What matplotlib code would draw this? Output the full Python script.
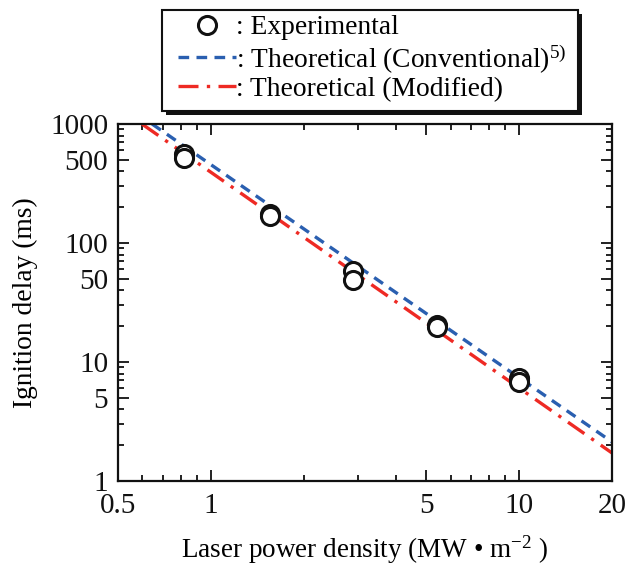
import matplotlib
matplotlib.use("Agg")
import matplotlib.pyplot as plt
from matplotlib.patches import Rectangle
from matplotlib.ticker import FixedLocator, NullFormatter, FixedFormatter

plt.rcParams["font.family"] = ["Liberation Serif", "DejaVu Serif"]
plt.rcParams["mathtext.fontset"] = "custom"
plt.rcParams["mathtext.rm"] = "Liberation Serif"
plt.rcParams["mathtext.it"] = "Liberation Serif:italic"

# experimental points (laser power density MW/m2, ignition delay ms)
power_exp = [0.82, 0.82, 1.56, 1.56, 2.89, 2.89, 5.4, 5.4, 10.0, 10.0]
delay_exp = [555, 520, 175, 167, 58, 49, 20.5, 19.5, 7.3, 6.8]

# theoretical lines, end points
power_conv = [0.645, 20]
delay_conv = [1000, 2.13]
power_mod = [0.598, 20]
delay_mod = [1000, 1.72]

x_ticks = [0.5, 1, 5, 10, 20]
y_ticks = [1, 5, 10, 50, 100, 500, 1000]

W, H = 632, 568
fig = plt.figure(figsize=(W / 100, H / 100), dpi=100)
ax = fig.add_axes([0.1867, 0.1532, 0.7816, 0.6285])

l1, = ax.plot(power_conv, delay_conv, color="#2a5fb0", lw=2.4,
              dashes=(3.2, 2.2))
l2, = ax.plot(power_mod, delay_mod, color="#ee2a24", lw=2.4,
              dashes=(6, 2.5, 1, 2.5))
p1, = ax.plot(power_exp, delay_exp, "o", ms=13, mfc="white", mec="#111111",
              mew=2.2, ls="none")

ax.set_xscale("log")
ax.set_yscale("log")
ax.set_xlim(0.5, 20)
ax.set_ylim(1, 1000)

ax.xaxis.set_major_locator(FixedLocator(x_ticks))
ax.xaxis.set_major_formatter(FixedFormatter(["0.5", "1", "5", "10", "20"]))
x_minor = [0.6, 0.7, 0.8, 0.9, 2, 3, 4, 6, 7, 8, 9]
ax.xaxis.set_minor_locator(FixedLocator(x_minor))
ax.xaxis.set_minor_formatter(NullFormatter())

ax.yaxis.set_major_locator(FixedLocator(y_ticks))
ax.yaxis.set_major_formatter(FixedFormatter([str(v) for v in y_ticks]))
y_minor = [m * d for d in (1, 10, 100) for m in (2, 3, 4, 6, 7, 8, 9)]
ax.yaxis.set_minor_locator(FixedLocator(y_minor))
ax.yaxis.set_minor_formatter(NullFormatter())

ax.tick_params(which="both", direction="in", top=True, right=True,
               labelsize=21, width=1.3, colors="#111111")
ax.tick_params(which="major", length=8)
ax.tick_params(axis="x", which="major", pad=9)
ax.tick_params(axis="y", which="major", pad=7)
ax.tick_params(which="minor", length=4)
for s in ax.spines.values():
    s.set_linewidth(1.6)
    s.set_color("#111111")

ax.set_xlabel("Laser power density (MW \u2022 m$^{-2}$ )", fontsize=19.5,
              labelpad=10)
ax.set_ylabel("Ignition delay (ms)", fontsize=19.8, va="center")
ax.yaxis.set_label_coords(-0.188, 0.5)

# legend box with drop shadow (drawn by hand, like the original)
bx0, bx1, by0, by1 = 162, 578, 10, 111
fig.add_artist(Rectangle(((bx0 + 4) / W, 1 - (by1 + 4) / H),
                         (bx1 - bx0) / W, (by1 - by0) / H,
                         transform=fig.transFigure, facecolor="#111111",
                         edgecolor="none", zorder=5))
fig.add_artist(Rectangle((bx0 / W, 1 - by1 / H),
                         (bx1 - bx0) / W, (by1 - by0) / H,
                         transform=fig.transFigure, facecolor="white",
                         edgecolor="#111111", lw=1.5, zorder=6))

leg = fig.legend([p1, l1, l2],
                 [": Experimental",
                  ": Theoretical (Conventional)$^{5)}$",
                  ": Theoretical (Modified)"],
                 loc="upper left", bbox_to_anchor=(178 / W, 1 - 15 / H),
                 fontsize=19.8, frameon=False,
                 handlelength=2.1, handletextpad=0.0, labelspacing=0.06,
                 borderpad=0, borderaxespad=0)
leg.set_zorder(7)

fig.savefig("out.png", dpi=100)
